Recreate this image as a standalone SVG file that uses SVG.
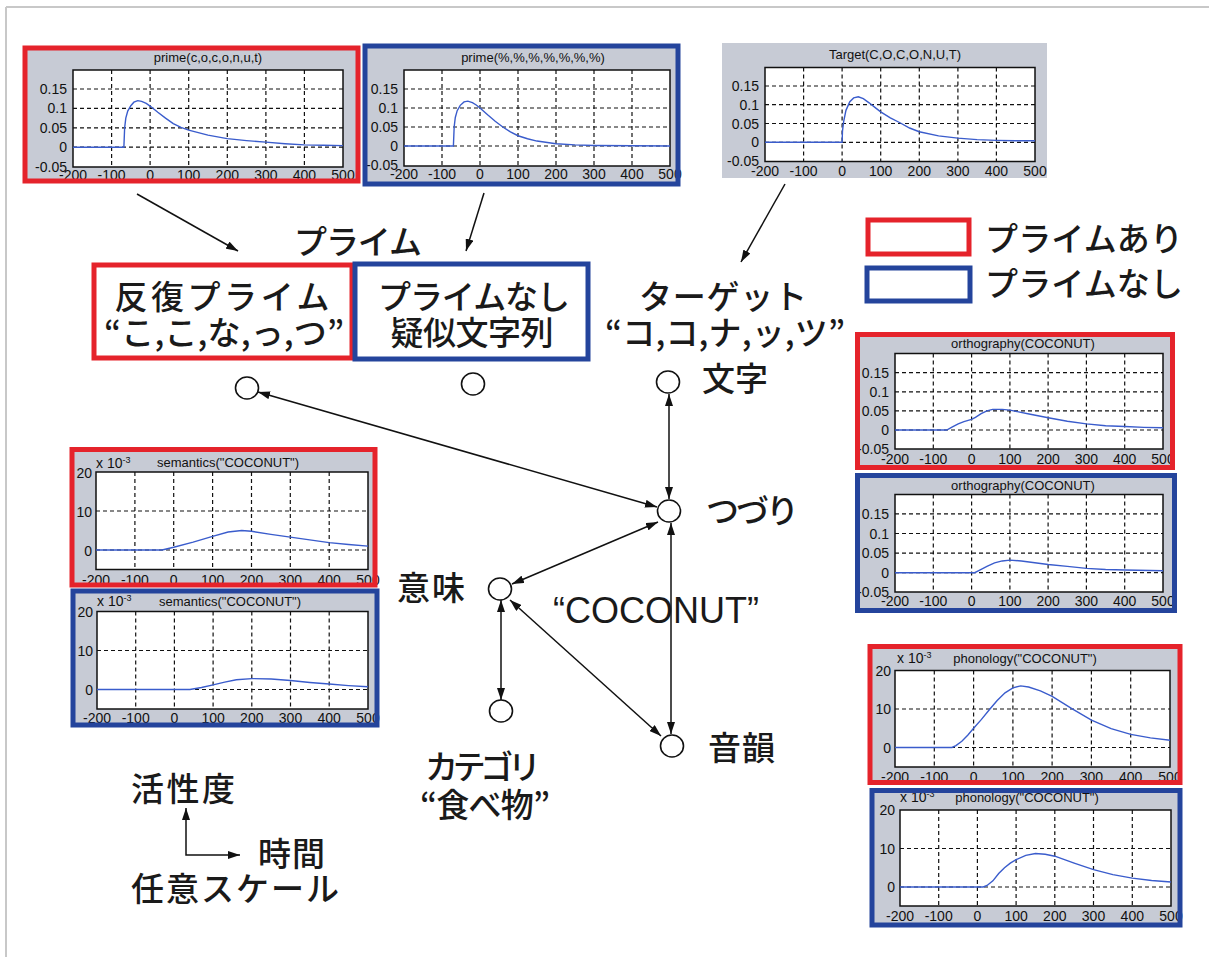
<svg xmlns="http://www.w3.org/2000/svg" width="1209" height="957" viewBox="0 0 1209 957">
<defs>
<style>
.pbg{fill:#c7cbd5}
.pa{fill:#fff}
.pf{fill:none;stroke:#111;stroke-width:1.5}
.grid{fill:none;stroke:#111;stroke-width:1.2;stroke-dasharray:4 3}
.crv{fill:none;stroke:#3a5ccc;stroke-width:1.4;vector-effect:non-scaling-stroke}
.bred{fill:none;stroke:#e5232b;stroke-width:5}
.bblue{fill:none;stroke:#24449c;stroke-width:5}
.t{font-family:"Liberation Sans Narrow","Liberation Sans",Arial,sans-serif;font-size:14px;fill:#111}
.ttl{font-family:"Liberation Sans Narrow","Liberation Sans",Arial,sans-serif;font-size:13px;fill:#111;text-anchor:middle}
.yl{text-anchor:end}
.xl{text-anchor:middle}
.jp{font-family:"Noto Sans CJK JP","Noto Sans",sans-serif;font-size:33px;font-weight:500;fill:#1a1a1a}
.mid{text-anchor:middle}
.con{stroke:#111;stroke-width:1.5;fill:none}
.node{fill:#fff;stroke:#111;stroke-width:1.6}
.frame{stroke:#c8c8c8;stroke-width:2;fill:none}
</style>
<marker id="ah" viewBox="0 0 12 8" refX="12" refY="4" markerWidth="12" markerHeight="8" markerUnits="userSpaceOnUse" orient="auto-start-reverse">
<path d="M0,0 L12,4 L0,8 z" fill="#111"/>
</marker>
</defs>
<rect width="1209" height="957" fill="#fff"/>
<path class="frame" d="M6,7 H1209 M6,7 V957"/>

<!-- Prime (repeated) plot -->
<g id="plot-prime-repeat">
<rect class="pbg" x="25" y="48" width="333" height="133"/>
<text class="ttl" x="208" y="62">prime(c,o,c,o,n,u,t)</text>
<rect class="pa" x="73" y="70" width="270" height="97"/>
<path class="grid" d="M111.6,70V167M150.1,70V167M188.7,70V167M227.3,70V167M265.9,70V167M304.4,70V167M73,89H343M73,108.4H343M73,127.8H343M73,147.2H343"/>
<rect class="pf" x="73" y="70" width="270" height="97"/>
<g transform="translate(150.1,147.2) scale(0.3857,-3.88)"><path class="crv" d="M-200,0 L-68,0 L-66,5 L-63,7.5 L-58,9.3 L-50,10.7 L-42,11.6 L-32,12 L-22,11.8 L-10,11.3 L0,10.6 L20,9 L40,7.5 L60,6.1 L80,5.1 L100,4.4 L150,3.1 L200,2.2 L250,1.7 L300,1.3 L350,0.9 L400,0.6 L450,0.5 L500,0.4"/></g>
<text class="t yl"><tspan x="67" y="94">0.15</tspan><tspan x="67" y="113.4">0.1</tspan><tspan x="67" y="132.8">0.05</tspan><tspan x="67" y="152.2">0</tspan><tspan x="67" y="171.6">-0.05</tspan></text>
<text class="t xl" y="179.5"><tspan x="73">-200</tspan><tspan x="111.6">-100</tspan><tspan x="150.1">0</tspan><tspan x="188.7">100</tspan><tspan x="227.3">200</tspan><tspan x="265.9">300</tspan><tspan x="304.4">400</tspan><tspan x="343">500</tspan></text>
<rect class="bred" x="25" y="48" width="333" height="133"/>
</g>

<!-- Prime (none) plot -->
<g id="plot-prime-none">
<rect class="pbg" x="365" y="46" width="313" height="138"/>
<text class="ttl" x="533" y="62">prime(%,%,%,%,%,%,%)</text>
<rect class="pa" x="404" y="70" width="266" height="96"/>
<path class="grid" d="M442,70V166M480,70V166M518,70V166M556,70V166M594,70V166M632,70V166M404,89H670M404,108H670M404,127H670M404,146H670"/>
<rect class="pf" x="404" y="70" width="266" height="96"/>
<g transform="translate(480,146) scale(0.38,-3.8)"><path class="crv" d="M-200,0 L-70,0 L-68,5 L-65,7.5 L-60,9.3 L-52,10.7 L-42,11.6 L-32,11.8 L-20,11.4 L-10,10.8 L0,10 L20,8.2 L40,6.5 L60,5 L80,3.7 L100,2.7 L125,1.9 L150,1.3 L200,0.6 L250,0.3 L300,0.15 L400,0.05 L500,0"/></g>
<text class="t yl"><tspan x="398" y="94">0.15</tspan><tspan x="398" y="113">0.1</tspan><tspan x="398" y="132">0.05</tspan><tspan x="398" y="151">0</tspan><tspan x="398" y="170">-0.05</tspan></text>
<text class="t xl" y="178.5"><tspan x="404">-200</tspan><tspan x="442">-100</tspan><tspan x="480">0</tspan><tspan x="518">100</tspan><tspan x="556">200</tspan><tspan x="594">300</tspan><tspan x="632">400</tspan><tspan x="670">500</tspan></text>
<rect class="bblue" x="365" y="46" width="313" height="138"/>
</g>

<!-- Target plot -->
<g id="plot-target">
<rect class="pbg" x="722" y="43" width="325" height="135"/>
<text class="ttl" x="895" y="59">Target(C,O,C,O,N,U,T)</text>
<rect class="pa" x="765" y="67.5" width="270" height="94"/>
<path class="grid" d="M803.6,67.5V161.5M842.1,67.5V161.5M880.7,67.5V161.5M919.3,67.5V161.5M957.9,67.5V161.5M996.4,67.5V161.5M765,86H1035M765,104.7H1035M765,123.5H1035M765,142.3H1035"/>
<rect class="pf" x="765" y="67.5" width="270" height="94"/>
<g transform="translate(842.1,142.3) scale(0.3857,-3.76)"><path class="crv" d="M-200,0 L0,0 L1,3 L4,5.5 L10,8.5 L20,10.8 L30,11.8 L42,12.1 L55,11.6 L70,10.5 L85,9.3 L100,8.1 L125,6.5 L150,5.2 L175,3.8 L200,2.8 L250,1.7 L300,1.1 L350,0.7 L400,0.5 L450,0.4 L500,0.4"/></g>
<text class="t yl"><tspan x="759" y="91">0.15</tspan><tspan x="759" y="109.7">0.1</tspan><tspan x="759" y="128.5">0.05</tspan><tspan x="759" y="147.3">0</tspan><tspan x="759" y="166">-0.05</tspan></text>
<text class="t xl" y="176"><tspan x="765">-200</tspan><tspan x="803.6">-100</tspan><tspan x="842.1">0</tspan><tspan x="880.7">100</tspan><tspan x="919.3">200</tspan><tspan x="957.9">300</tspan><tspan x="996.4">400</tspan><tspan x="1035">500</tspan></text>
</g>

<!-- Orthography (prime) -->
<g id="plot-ortho-prime">
<rect class="pbg" x="857.5" y="334.5" width="315" height="133"/>
<text class="ttl" x="1023" y="348">orthography(COCONUT)</text>
<rect class="pa" x="895" y="353.5" width="268" height="95.5"/>
<path class="grid" d="M933.3,353.5V449M971.6,353.5V449M1009.9,353.5V449M1048.1,353.5V449M1086.4,353.5V449M1124.7,353.5V449M895,372.7H1163M895,391.8H1163M895,410.9H1163M895,430H1163"/>
<rect class="pf" x="895" y="353.5" width="268" height="95.5"/>
<g transform="translate(971.6,430) scale(0.383,-3.82)"><path class="crv" d="M-200,0 L-65,0 L-50,0.8 L-35,1.6 L-20,2.2 L0,2.8 L10,3.3 L25,4.3 L40,5 L55,5.4 L80,5.4 L100,5.2 L150,4.2 L200,3.2 L250,2.3 L300,1.6 L350,1.1 L400,0.9 L450,0.7 L500,0.6"/></g>
<text class="t yl"><tspan x="889" y="377.5">0.15</tspan><tspan x="889" y="396.5">0.1</tspan><tspan x="889" y="415.5">0.05</tspan><tspan x="889" y="435">0</tspan><tspan x="889" y="454">-0.05</tspan></text>
<text class="t xl" y="463.5"><tspan x="895">-200</tspan><tspan x="933.3">-100</tspan><tspan x="971.6">0</tspan><tspan x="1009.9">100</tspan><tspan x="1048.1">200</tspan><tspan x="1086.4">300</tspan><tspan x="1124.7">400</tspan><tspan x="1163">500</tspan></text>
<rect class="bred" x="857.5" y="334.5" width="315" height="133"/>
</g>

<!-- Orthography (no prime) -->
<g id="plot-ortho-none">
<rect class="pbg" x="857.5" y="475.5" width="317" height="135"/>
<text class="ttl" x="1023" y="490">orthography(COCONUT)</text>
<rect class="pa" x="895" y="494.5" width="268" height="97.5"/>
<path class="grid" d="M933.3,494.5V592M971.6,494.5V592M1009.9,494.5V592M1048.1,494.5V592M1086.4,494.5V592M1124.7,494.5V592M895,513.9H1163M895,533.5H1163M895,553.1H1163M895,572.7H1163"/>
<rect class="pf" x="895" y="494.5" width="268" height="97.5"/>
<g transform="translate(971.6,572.7) scale(0.383,-3.92)"><path class="crv" d="M-200,0 L8,0 L20,0.6 L40,1.6 L60,2.5 L80,3 L100,3.2 L130,3 L160,2.6 L200,2.1 L250,1.6 L300,1.1 L350,0.8 L400,0.7 L500,0.5"/></g>
<text class="t yl"><tspan x="889" y="519">0.15</tspan><tspan x="889" y="538.5">0.1</tspan><tspan x="889" y="558">0.05</tspan><tspan x="889" y="577.7">0</tspan><tspan x="889" y="597.3">-0.05</tspan></text>
<text class="t xl" y="605.5"><tspan x="895">-200</tspan><tspan x="933.3">-100</tspan><tspan x="971.6">0</tspan><tspan x="1009.9">100</tspan><tspan x="1048.1">200</tspan><tspan x="1086.4">300</tspan><tspan x="1124.7">400</tspan><tspan x="1163">500</tspan></text>
<rect class="bblue" x="857.5" y="475.5" width="317" height="135"/>
</g>

<!-- Semantics (prime) -->
<g id="plot-sem-prime">
<rect class="pbg" x="72" y="449.5" width="303" height="135.5"/>
<text class="t" x="96" y="468" font-size="13">x 10<tspan dy="-5" font-size="9">-3</tspan></text>
<text class="ttl" x="228" y="467">semantics("COCONUT")</text>
<rect class="pa" x="96" y="472" width="272" height="97.5"/>
<path class="grid" d="M134.9,472V569.5M173.7,472V569.5M212.6,472V569.5M251.5,472V569.5M290.3,472V569.5M329.2,472V569.5M96,511H368M96,550H368"/>
<rect class="pf" x="96" y="472" width="272" height="97.5"/>
<g transform="translate(173.7,550) scale(0.3886,-3.9)"><path class="crv" d="M-200,0 L-30,0 L0,0.7 L50,2 L100,3.5 L140,4.6 L175,5 L200,4.8 L250,4 L300,3.3 L350,2.6 L400,1.9 L450,1.4 L500,1"/></g>
<text class="t yl"><tspan x="92" y="478">20</tspan><tspan x="92" y="516.5">10</tspan><tspan x="92" y="555.5">0</tspan></text>
<text class="t xl" y="584.5"><tspan x="96">-200</tspan><tspan x="134.9">-100</tspan><tspan x="173.7">0</tspan><tspan x="212.6">100</tspan><tspan x="251.5">200</tspan><tspan x="290.3">300</tspan><tspan x="329.2">400</tspan><tspan x="368">500</tspan></text>
<rect class="bred" x="72" y="449.5" width="303" height="135.5"/>
</g>

<!-- Semantics (no prime) -->
<g id="plot-sem-none">
<rect class="pbg" x="73" y="591" width="304" height="134"/>
<text class="t" x="97" y="606" font-size="13">x 10<tspan dy="-5" font-size="9">-3</tspan></text>
<text class="ttl" x="230" y="606">semantics("COCONUT")</text>
<rect class="pa" x="97" y="611.5" width="271" height="97.5"/>
<path class="grid" d="M135.7,611.5V709M174.4,611.5V709M213.1,611.5V709M251.8,611.5V709M290.5,611.5V709M329.2,611.5V709M97,650.5H368M97,689.5H368"/>
<rect class="pf" x="97" y="611.5" width="271" height="97.5"/>
<g transform="translate(174.4,689.5) scale(0.387,-3.9)"><path class="crv" d="M-200,0 L40,0 L70,0.5 L100,1.2 L130,1.9 L160,2.5 L200,2.8 L250,2.7 L300,2.3 L350,1.8 L400,1.4 L450,1 L500,0.7"/></g>
<text class="t yl"><tspan x="93" y="617">20</tspan><tspan x="93" y="655.5">10</tspan><tspan x="93" y="694.5">0</tspan></text>
<text class="t xl" y="722.5"><tspan x="97">-200</tspan><tspan x="135.7">-100</tspan><tspan x="174.4">0</tspan><tspan x="213.1">100</tspan><tspan x="251.8">200</tspan><tspan x="290.5">300</tspan><tspan x="329.2">400</tspan><tspan x="368">500</tspan></text>
<rect class="bblue" x="73" y="591" width="304" height="134"/>
</g>

<!-- Phonology (prime) -->
<g id="plot-phon-prime">
<rect class="pbg" x="870" y="646.5" width="310" height="136"/>
<text class="t" x="897" y="663" font-size="13">x 10<tspan dy="-5" font-size="9">-3</tspan></text>
<text class="ttl" x="1025" y="663">phonology("COCONUT")</text>
<rect class="pa" x="895" y="670.5" width="275" height="96.5"/>
<path class="grid" d="M934.3,670.5V767M973.6,670.5V767M1012.9,670.5V767M1052.1,670.5V767M1091.4,670.5V767M1130.7,670.5V767M895,709H1170M895,747.5H1170"/>
<rect class="pf" x="895" y="670.5" width="275" height="96.5"/>
<g transform="translate(973.6,747.5) scale(0.3929,-3.85)"><path class="crv" d="M-200,0 L-55,0 L-45,0.5 L-30,1.6 L-15,3.2 L0,5 L20,7.3 L40,9.8 L60,12.2 L80,14.2 L100,15.5 L120,16 L140,15.7 L170,14.7 L200,13.3 L250,10.1 L300,7.1 L350,4.9 L400,3.4 L450,2.5 L500,1.9"/></g>
<text class="t yl"><tspan x="891" y="676">20</tspan><tspan x="891" y="714">10</tspan><tspan x="891" y="752.5">0</tspan></text>
<text class="t xl" y="781.5"><tspan x="895">-200</tspan><tspan x="934.3">-100</tspan><tspan x="973.6">0</tspan><tspan x="1012.9">100</tspan><tspan x="1052.1">200</tspan><tspan x="1091.4">300</tspan><tspan x="1130.7">400</tspan><tspan x="1170">500</tspan></text>
<rect class="bred" x="870" y="646.5" width="310" height="136"/>
</g>

<!-- Phonology (no prime) -->
<g id="plot-phon-none">
<rect class="pbg" x="872" y="790.5" width="308" height="134.5"/>
<text class="t" x="900" y="802" font-size="13">x 10<tspan dy="-5" font-size="9">-3</tspan></text>
<text class="ttl" x="1027" y="802">phonology("COCONUT")</text>
<rect class="pa" x="900" y="810" width="271" height="96"/>
<path class="grid" d="M938.7,810V906M977.4,810V906M1016.1,810V906M1054.8,810V906M1093.5,810V906M1132.3,810V906M900,848.5H1171M900,887H1171"/>
<rect class="pf" x="900" y="810" width="271" height="96"/>
<g transform="translate(977.4,887) scale(0.3871,-3.85)"><path class="crv" d="M-200,0 L15,0 L25,0.4 L40,1.6 L55,3.5 L70,5 L85,6.2 L100,7.1 L125,8.2 L150,8.7 L175,8.5 L200,8 L250,6.2 L300,4.5 L350,3.2 L400,2.3 L450,1.7 L500,1.3"/></g>
<text class="t yl"><tspan x="895" y="815">20</tspan><tspan x="895" y="853.5">10</tspan><tspan x="895" y="892">0</tspan></text>
<text class="t xl" y="920.5"><tspan x="900">-200</tspan><tspan x="938.7">-100</tspan><tspan x="977.4">0</tspan><tspan x="1016.1">100</tspan><tspan x="1054.8">200</tspan><tspan x="1093.5">300</tspan><tspan x="1132.3">400</tspan><tspan x="1171">500</tspan></text>
<rect class="bblue" x="872" y="790.5" width="308" height="134.5"/>
</g>

<!-- Legend -->
<g id="legend">
<rect class="bred" x="868" y="220" width="101" height="34"/>
<rect class="bblue" x="867" y="268" width="103" height="33"/>
<text class="jp" x="985" y="251" textLength="198">プライムあり</text>
<text class="jp" x="985" y="296" textLength="198">プライムなし</text>
</g>

<!-- Labels / boxes -->
<g id="prime-title"><text class="jp mid" x="358" y="254" textLength="128">プライム</text></g>
<g id="box-repeat-prime">
<rect class="bred" x="94" y="265" width="258" height="93"/>
<text class="jp mid" x="222" y="309" font-size="31" textLength="215">反復プライム</text>
<text class="jp mid" x="224" y="345" font-size="31" textLength="240">“こ,こ,な,っ,つ”</text>
</g>
<g id="box-no-prime">
<rect class="bblue" x="355" y="264" width="233" height="95"/>
<text class="jp mid" x="474" y="309" font-size="31" textLength="192">プライムなし</text>
<text class="jp mid" x="472" y="345" font-size="31" textLength="163">疑似文字列</text>
</g>
<g id="target-label">
<text class="jp mid" x="723" y="309" font-size="31" textLength="168">ターゲット</text>
<text class="jp mid" x="725" y="345" font-size="31" textLength="240">“コ,コ,ナ,ッ,ツ”</text>
</g>

<!-- Connectors -->
<g id="connectors">
<line class="con" x1="137" y1="194" x2="238" y2="251" marker-end="url(#ah)"/>
<line class="con" x1="484" y1="193" x2="466" y2="251" marker-end="url(#ah)"/>
<line class="con" x1="785" y1="184" x2="741" y2="262" marker-end="url(#ah)"/>
<line class="con" x1="258" y1="392" x2="657" y2="507" marker-start="url(#ah)" marker-end="url(#ah)"/>
<line class="con" x1="669" y1="394" x2="669" y2="499" marker-start="url(#ah)" marker-end="url(#ah)"/>
<line class="con" x1="658" y1="522" x2="512" y2="584" marker-start="url(#ah)" marker-end="url(#ah)"/>
<line class="con" x1="671" y1="523" x2="671" y2="734" marker-start="url(#ah)" marker-end="url(#ah)"/>
<line class="con" x1="501" y1="600" x2="501" y2="700" marker-start="url(#ah)" marker-end="url(#ah)"/>
<line class="con" x1="510" y1="600" x2="661" y2="736" marker-start="url(#ah)" marker-end="url(#ah)"/>
<path class="con" d="M186,808 L186,855 L240,855" marker-start="url(#ah)" marker-end="url(#ah)"/>
</g>

<!-- Nodes -->
<g id="node-prime-repeat"><ellipse class="node" cx="247" cy="388" rx="11.5" ry="11"/></g>
<g id="node-prime-none"><ellipse class="node" cx="473" cy="384" rx="11.5" ry="11"/></g>
<g id="node-letter"><ellipse class="node" cx="668" cy="382" rx="11.5" ry="11"/><text class="jp" x="702" y="391" textLength="66">文字</text></g>
<g id="node-spelling"><ellipse class="node" cx="669" cy="511" rx="11.5" ry="11"/><text class="jp" x="706" y="523" textLength="93">つづり</text></g>
<g id="node-meaning"><ellipse class="node" cx="500" cy="589" rx="11.5" ry="11"/><text class="jp" x="397" y="600" textLength="68">意味</text></g>
<g id="node-category"><ellipse class="node" cx="501" cy="711" rx="11.5" ry="11"/>
<text class="jp mid" x="483" y="779" font-size="31" textLength="116">カテゴリ</text>
<text class="jp mid" x="485" y="817" font-size="31" textLength="130">“食べ物”</text></g>
<g id="node-phonology"><ellipse class="node" cx="672" cy="746" rx="11.5" ry="11"/><text class="jp" x="708" y="760" textLength="67">音韻</text></g>
<g id="word-label"><text x="553" y="623" font-family="Liberation Sans, Arial, sans-serif" font-size="36" fill="#1a1a1a">“COCONUT”</text></g>

<!-- Axis legend -->
<g id="axis-legend">
<text class="jp" x="131" y="801" font-size="33" textLength="104">活性度</text>
<text class="jp" x="258" y="866" font-size="33" textLength="67">時間</text>
<text class="jp" x="131" y="901" font-size="33" textLength="208">任意スケール</text>
</g>
</svg>
